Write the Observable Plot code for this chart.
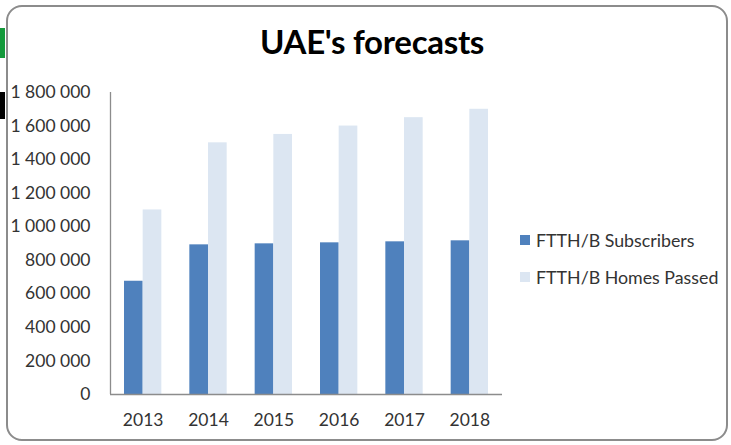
<!DOCTYPE html>
<html>
<head>
<meta charset="utf-8">
<script src="https://cdn.jsdelivr.net/npm/d3@7"></script>
<script src="https://cdn.jsdelivr.net/npm/@observablehq/plot@0.6"></script>
<style>
  html, body { margin: 0; padding: 0; background: #fff; }
  #wrap { position: relative; width: 731px; height: 445px; overflow: hidden; font-family: Lato, "Open Sans", sans-serif; }
  #frame { position: absolute; left: 6px; top: 5px; width: 722px; height: 436px; border: 2px solid #8c8c8c; border-radius: 16px; box-sizing: border-box; }
  #green { position: absolute; left: 0; top: 28px; width: 5px; height: 30px; background: #149a3c; }
  #black { position: absolute; left: 0; top: 92px; width: 5px; height: 27px; background: #000; }
  #title { position: absolute; left: 0; width: 744px; top: 21px; text-align: center; font-weight: 700; font-size: 33px; color: #000; letter-spacing: -0.3px; }
  #chart { position: absolute; left: 0; top: 0; }
  #legend { position: absolute; left: 520px; top: 221px; font-size: 17.8px; color: #333; }
  .item { display: flex; align-items: center; height: 37px; line-height: 18px; }
  .sw { width: 10px; height: 10px; margin-right: 6px; }
</style>
</head>
<body>
<div id="wrap">
  <div id="green"></div>
  <div id="black"></div>
  <div id="frame"></div>
  <div id="title">UAE's forecasts</div>
  <div id="chart"></div>
  <div id="legend"></div>
</div>
<script>
const years = [2013, 2014, 2015, 2016, 2017, 2018];
const subscribers = [675000, 892000, 898000, 904000, 910000, 916000];
const homesPassed = [1100000, 1500000, 1550000, 1600000, 1650000, 1700000];
const seriesNames = ["FTTH/B Subscribers", "FTTH/B Homes Passed"];
const seriesColors = ["#4f81bd", "#dce6f2"];
const yTicks = [0, 200000, 400000, 600000, 800000, 1000000, 1200000, 1400000, 1600000, 1800000];

const half = 0.2857; // bar width, as a fraction of one year's slot
const data = [];
years.forEach((y, i) => {
  data.push({year: y, series: seriesNames[0], value: subscribers[i], x1: y - half, x2: y});
  data.push({year: y, series: seriesNames[1], value: homesPassed[i], x1: y, x2: y + half});
});

const fmt = d3.formatLocale({thousands: " ", grouping: [3], decimal: ".", currency: ["", ""]}).format(",");
const xDomain = [years[0] - 0.5, years[years.length - 1] + 0.5];

const chart = Plot.plot({
  width: 731,
  height: 445,
  marginLeft: 110,
  marginRight: 229,
  marginTop: 92,
  marginBottom: 51,
  style: {fontFamily: "Lato, 'Open Sans', sans-serif", fontSize: "17.5px", color: "#333", background: "transparent"},
  x: {domain: xDomain, ticks: years, tickFormat: d => String(d), tickSize: 0, tickPadding: 19, label: null},
  y: {domain: [0, 1800000], ticks: yTicks, tickFormat: fmt, tickSize: 0, tickPadding: 20, label: null},
  color: {domain: seriesNames, range: seriesColors},
  marks: [
    Plot.rectY(data, {x1: "x1", x2: "x2", y: "value", fill: "series"}),
    Plot.ruleY([0], {stroke: "#8c8c8c", strokeWidth: 1.3}),
    Plot.ruleX([xDomain[0]], {stroke: "#8c8c8c", strokeWidth: 1.3})
  ]
});
document.getElementById("chart").appendChild(chart);

const legend = document.getElementById("legend");
seriesNames.forEach((name, i) => {
  const item = document.createElement("div");
  item.className = "item";
  const sw = document.createElement("span");
  sw.className = "sw";
  sw.style.background = seriesColors[i];
  const t = document.createElement("span");
  t.textContent = name;
  item.appendChild(sw);
  item.appendChild(t);
  legend.appendChild(item);
});
</script>
</body>
</html>
